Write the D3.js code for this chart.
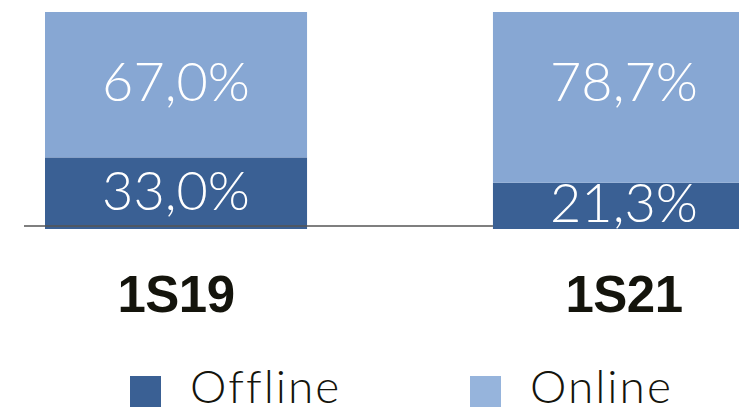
<!DOCTYPE html>
<html>
<head>
<meta charset="utf-8">
<script src="https://cdn.jsdelivr.net/npm/d3@7"></script>
<style>
  html, body { margin: 0; padding: 0; background: #fff; }
  svg { display: block; }
  .val { font-family: Lato, "Open Sans", sans-serif; font-weight: 300; fill: #fff; }
  .cat { font-family: "Liberation Sans", Arial, sans-serif; font-weight: bold; fill: #14140c; }
  .leg { font-family: Lato, "Open Sans", sans-serif; font-weight: 300; fill: #14140c; }
</style>
</head>
<body>
<div id="chart"></div>
<script>
(function() {
  'use strict';

  // data
  var categories = ['1S19', '1S21'];
  var offline = [33.0, 21.3];
  var online = [67.0, 78.7];
  var seriesNames = ['Offline', 'Online'];

  var width = 739, height = 413;
  var colors = { Offline: '#3a6094', Online: '#87a7d3' };
  var legendColors = { Offline: '#3a6094', Online: '#96b4dc' };

  var svg = d3.select('#chart').append('svg').attr('width', width).attr('height', height);

  var x = d3.scaleBand().domain(categories).range([45, 755]).paddingInner(0.415).paddingOuter(0);
  var y = d3.scaleLinear().domain([0, 100]).range([229, 12]);

  var rows = categories.map(function(c, i) { return { cat: c, Offline: offline[i], Online: online[i] }; });
  var stack = d3.stack().keys(seriesNames)(rows);

  var fmt = function(v) { return v.toFixed(1).replace('.', ',') + '%'; };

  var layer = svg.selectAll('.layer').data(stack).enter().append('g')
    .attr('class', 'layer').attr('fill', function(d) { return colors[d.key]; });

  layer.selectAll('rect').data(function(d) { return d; }).enter().append('rect')
    .attr('x', function(d) { return x(d.data.cat); })
    .attr('y', function(d) { return y(d[1]); })
    .attr('width', x.bandwidth())
    .attr('height', function(d) { return y(d[0]) - y(d[1]); });

  // baseline
  svg.append('line').attr('x1', 24).attr('x2', x(categories[1]))
    .attr('y1', y(0) - 3).attr('y2', y(0) - 3)
    .attr('stroke', '#555').attr('stroke-width', 1.5);

  // value labels
  stack.forEach(function(s) {
    svg.selectAll(null).data(s).enter().append('text')
      .attr('class', 'val')
      .attr('x', function(d) { return x(d.data.cat) + x.bandwidth() / 2; })
      .attr('y', function(d) {
        // online labels sit at the same height on both bars
        if (s.key === 'Online') return y(68);
        return (y(d[0]) + y(d[1])) / 2 - 3;
      })
      .attr('dy', '0.36em')
      .attr('text-anchor', 'middle')
      .attr('font-size', 54)
      .text(function(d) { return fmt(d.data[s.key]); });
  });

  // category labels
  svg.selectAll('.cat').data(categories).enter().append('text')
    .attr('class', 'cat')
    .attr('x', function(d) { return x(d) + x.bandwidth() / 2; })
    .attr('y', 312)
    .attr('text-anchor', 'middle')
    .attr('font-size', 51)
    .attr('letter-spacing', -0.5)
    .text(function(d) { return d; });

  // legend
  var legX = [130, 470];
  var leg = svg.selectAll('.legend').data(seriesNames).enter().append('g')
    .attr('class', 'legend')
    .attr('transform', function(d, i) { return 'translate(' + legX[i] + ',376)'; });
  leg.append('rect').attr('width', 31).attr('height', 31)
    .attr('fill', function(d) { return legendColors[d]; });
  leg.append('text').attr('class', 'leg').attr('x', 60).attr('y', 27)
    .attr('font-size', 46).attr('letter-spacing', 2).text(function(d) { return d; });
})();
</script>
</body>
</html>
